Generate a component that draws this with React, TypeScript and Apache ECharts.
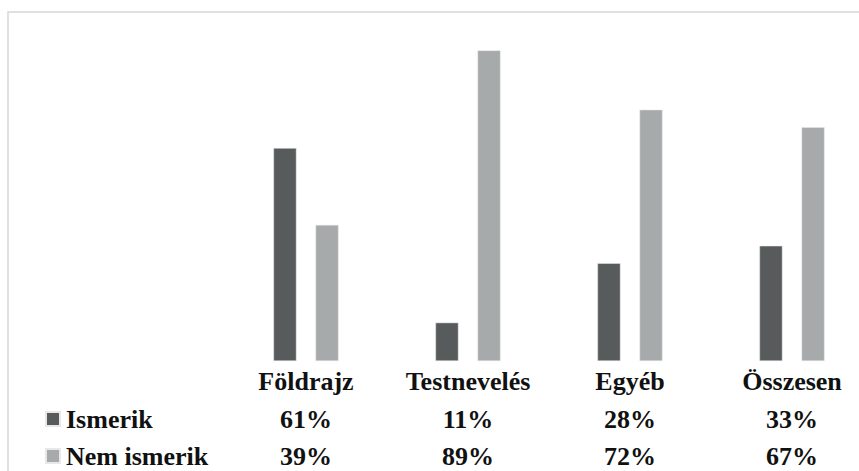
import React, { useEffect, useRef } from "react";
import * as echarts from "echarts";

const categories = ["Földrajz", "Testnevelés", "Egyéb", "Összesen"];
const seriesNames = ["Ismerik", "Nem ismerik"];
const ismerik = [61, 11, 28, 33];
const nemIsmerik = [39, 89, 72, 67];

const FONT = "'Liberation Serif', 'Times New Roman', serif";
const DARK = "#585b5b";
const LIGHT = "#a7aaaa";

export default function App() {
  const ref = useRef<HTMLDivElement>(null);
  useEffect(() => {
    if (!ref.current) return;
    const chart = echarts.init(ref.current, null, { renderer: "svg" });
    const labelStyle = {
      fontFamily: FONT,
      fontSize: 26,
      fontWeight: "bold" as const,
      color: "#111",
      lineHeight: 26,
    };
    const hiddenAxisBits = {
      axisLine: { show: false },
      axisTick: { show: false },
      splitLine: { show: false },
    };
    chart.setOption({
      animation: false,
      backgroundColor: "#fff",
      graphic: [
        {
          type: "rect",
          shape: { x: 8, y: 12, width: 1000, height: 1000 },
          style: { fill: "none", stroke: "#d6d6d6", lineWidth: 1.5 },
          silent: true,
        },
      ],
      legend: {
        orient: "vertical",
        left: 40,
        top: 401,
        height: 100,
        itemWidth: 14,
        itemHeight: 14,
        itemGap: 11,
        icon: "rect",
        textStyle: { ...labelStyle, padding: [0, 0, 0, 1] },
        data: seriesNames,
      },
      grid: { left: 225, top: 12, width: 648, height: 349, containLabel: false },
      xAxis: [
        {
          type: "category",
          data: categories,
          position: "bottom",
          ...hiddenAxisBits,
          axisLabel: { ...labelStyle, margin: 7, interval: 0 },
        },
        {
          type: "category",
          data: ismerik.map((v) => v + "%"),
          position: "bottom",
          offset: 38,
          ...hiddenAxisBits,
          axisLabel: { ...labelStyle, margin: 7, interval: 0 },
        },
        {
          type: "category",
          data: nemIsmerik.map((v) => v + "%"),
          position: "bottom",
          offset: 75,
          ...hiddenAxisBits,
          axisLabel: { ...labelStyle, margin: 7, interval: 0 },
        },
      ],
      yAxis: {
        type: "value",
        min: 0,
        max: 100,
        show: false,
      },
      series: [
        {
          name: seriesNames[0],
          type: "bar",
          xAxisIndex: 0,
          data: ismerik,
          barWidth: 23,
          barGap: "83%",
          itemStyle: { color: DARK, borderColor: "#e8e8e8", borderWidth: 0.5 },
        },
        {
          name: seriesNames[1],
          type: "bar",
          xAxisIndex: 0,
          data: nemIsmerik,
          barWidth: 23,
          barGap: "83%",
          itemStyle: { color: LIGHT, borderColor: "#e8e8e8", borderWidth: 0.5 },
        },
      ],
    });
    return () => chart.dispose();
  }, []);
  return (
    <div
      style={{
        position: "fixed",
        left: 0,
        top: 0,
        width: 859,
        height: 471,
        overflow: "hidden",
        background: "#fff",
      }}
    >
      <div ref={ref} style={{ width: 900, height: 540 }} />
    </div>
  );
}
